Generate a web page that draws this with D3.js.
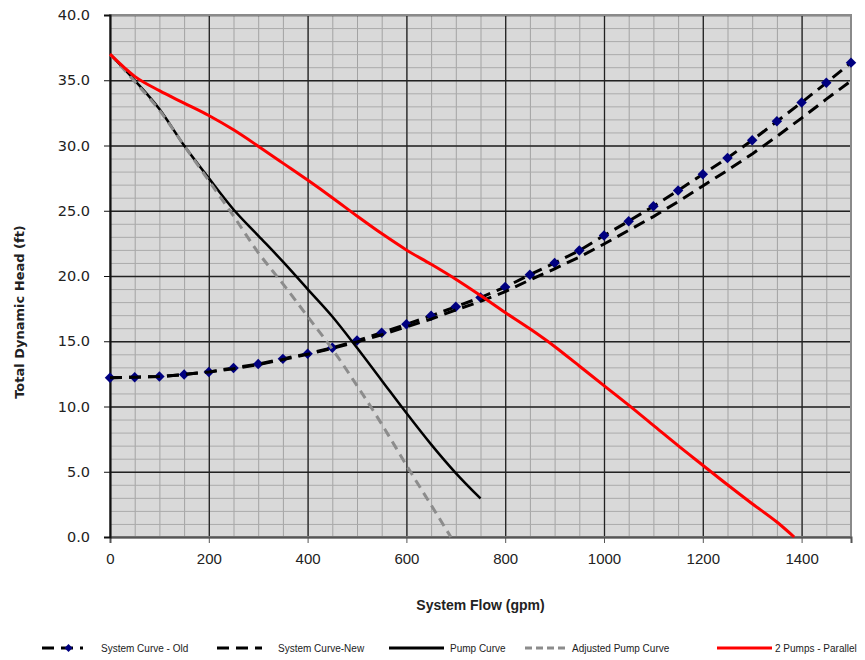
<!DOCTYPE html>
<html>
<head>
<meta charset="utf-8">
<script src="https://cdn.jsdelivr.net/npm/d3@7"></script>
<style>
  body { margin: 0; background: #fff; }
  svg { display: block; }
</style>
</head>
<body>
<svg id="chart" width="865" height="660"></svg>
<script>
// flow values (gpm) for the system curves
const systemFlows = [0, 50, 100, 150, 200, 250, 300, 350, 400, 450, 500, 550, 600, 650, 700, 750,
  800, 850, 900, 950, 1000, 1050, 1100, 1150, 1200, 1250, 1300, 1350, 1400, 1450, 1500];
const systemOld = [12.2, 12.25, 12.3, 12.45, 12.65, 12.95, 13.25, 13.65, 14.05, 14.5, 15.05, 15.65, 16.3, 16.95, 17.65, 18.35,
  19.15, 20.1, 21.0, 21.95, 23.1, 24.2, 25.35, 26.55, 27.8, 29.05, 30.4, 31.85, 33.3, 34.8, 36.35];
const systemNew = [12.2, 12.25, 12.3, 12.45, 12.65, 12.9, 13.2, 13.6, 14.0, 14.45, 14.95, 15.5, 16.1, 16.7, 17.4, 18.05,
  18.8, 19.7, 20.55, 21.45, 22.45, 23.5, 24.55, 25.7, 26.9, 28.1, 29.35, 30.7, 32.1, 33.55, 34.95];

const pumpFlows = [0, 50, 100, 150, 200, 250, 300, 350, 400, 450, 500, 550, 600, 650, 700, 750];
const pumpHead = [37.0, 35.0, 32.8, 30.0, 27.5, 25.1, 23.1, 21.1, 19.0, 16.9, 14.5, 12.0, 9.5, 7.1, 4.9, 2.95];

const adjFlows = [0, 50, 100, 150, 200, 250, 300, 350, 400, 450, 500, 550, 600, 650, 690];
const adjHead = [37.0, 34.9, 32.7, 30.0, 27.3, 24.6, 21.8, 19.4, 16.9, 14.4, 11.6, 8.65, 5.5, 2.45, 0.0];

const parFlows = [0, 50, 100, 150, 200, 250, 300, 350, 400, 450, 500, 550, 600, 650, 700, 750,
  800, 850, 900, 950, 1000, 1050, 1100, 1150, 1200, 1250, 1300, 1350, 1385];
const parHead = [37.0, 35.3, 34.2, 33.25, 32.3, 31.2, 29.95, 28.65, 27.35, 26.0, 24.6, 23.25, 22.0, 20.9, 19.75, 18.5,
  17.2, 15.95, 14.6, 13.1, 11.6, 10.1, 8.55, 7.0, 5.5, 4.0, 2.55, 1.15, 0.0];

const xTicks = [0, 200, 400, 600, 800, 1000, 1200, 1400];
const yTicks = [0, 5, 10, 15, 20, 25, 30, 35, 40];

const legendNames = ["System Curve - Old", "System Curve-New", "Pump Curve", "Adjusted Pump Curve", "2 Pumps - Parallel"];

const svg = d3.select("#chart");
const margin = { top: 15, right: 14, bottom: 123, left: 110 };
const width = 865 - margin.left - margin.right;
const height = 660 - margin.top - margin.bottom;

const x = d3.scaleLinear().domain([0, 1500]).range([margin.left, margin.left + width]);
const y = d3.scaleLinear().domain([0, 40]).range([margin.top + height, margin.top]);

// plot background
svg.append("rect")
  .attr("x", margin.left).attr("y", margin.top)
  .attr("width", width).attr("height", height)
  .attr("fill", "#d9d9d9");

// minor grid
const grid = svg.append("g");
grid.append("g")
  .attr("transform", `translate(0,${margin.top + height})`)
  .call(d3.axisBottom(x).ticks(30).tickSize(-height).tickFormat(""))
  .call(g => g.select(".domain").remove())
  .call(g => g.selectAll("line").attr("stroke", "#a3a3a3").attr("stroke-width", 1));
grid.append("g")
  .attr("transform", `translate(${margin.left},0)`)
  .call(d3.axisLeft(y).ticks(40).tickSize(-width).tickFormat(""))
  .call(g => g.select(".domain").remove())
  .call(g => g.selectAll("line").attr("stroke", "#ababab").attr("stroke-width", 1));

// major grid
grid.append("g")
  .attr("transform", `translate(0,${margin.top + height})`)
  .call(d3.axisBottom(x).tickValues(xTicks).tickSize(-height).tickFormat(""))
  .call(g => g.select(".domain").remove())
  .call(g => g.selectAll("line").attr("stroke", "#222").attr("stroke-width", 1.3));
grid.append("g")
  .attr("transform", `translate(${margin.left},0)`)
  .call(d3.axisLeft(y).tickValues(yTicks).tickSize(-width).tickFormat(""))
  .call(g => g.select(".domain").remove())
  .call(g => g.selectAll("line").attr("stroke", "#222").attr("stroke-width", 1.3));

// plot frame (right/top in grey)
svg.append("rect")
  .attr("x", margin.left).attr("y", margin.top)
  .attr("width", width).attr("height", height)
  .attr("fill", "none").attr("stroke", "#8a8a8a").attr("stroke-width", 2);

// axes
const xAxis = svg.append("g")
  .attr("transform", `translate(0,${margin.top + height})`)
  .call(d3.axisBottom(x).tickValues(xTicks).tickSize(6).tickPadding(10).tickFormat(d3.format("d")));
xAxis.select(".domain").attr("stroke", "#555").attr("stroke-width", 2);
xAxis.selectAll("line").attr("stroke", "#555");
xAxis.selectAll("text")
  .attr("font-family", "'Liberation Sans Narrow', 'Arial Narrow', sans-serif")
  .attr("font-size", 15).attr("fill", "#222");

const yAxis = svg.append("g")
  .attr("transform", `translate(${margin.left},0)`)
  .call(d3.axisLeft(y).tickValues(yTicks).tickSize(6).tickPadding(14).tickFormat(d3.format(".1f")));
yAxis.select(".domain").attr("stroke", "#111").attr("stroke-width", 2);
yAxis.selectAll("line").attr("stroke", "#111");
yAxis.selectAll("text")
  .attr("font-family", "'DejaVu Sans', Verdana, sans-serif")
  .attr("font-size", 14.5).attr("fill", "#222");

// axis titles
svg.append("text")
  .attr("x", x(750)).attr("y", 610)
  .attr("text-anchor", "middle")
  .attr("font-family", "'Liberation Sans', Arial, sans-serif")
  .attr("font-weight", "bold").attr("font-size", 14).attr("fill", "#222")
  .text("System Flow (gpm)");

svg.append("text")
  .attr("transform", `translate(24,${y(20) + 36}) rotate(-90)`)
  .attr("text-anchor", "middle")
  .attr("font-family", "'DejaVu Sans', Verdana, sans-serif")
  .attr("font-weight", "bold").attr("font-size", 13).attr("fill", "#222")
  .text("Total Dynamic Head (ft)");

// series
const line = d3.line().x(d => x(d[0])).y(d => y(d[1]));
const zip = (xs, ys) => xs.map((v, i) => [v, ys[i]]);

const plot = svg.append("g");

plot.append("path")
  .datum(zip(systemFlows, systemOld))
  .attr("d", line)
  .attr("fill", "none").attr("stroke", "#000").attr("stroke-width", 3)
  .attr("stroke-dasharray", "12,7");

plot.selectAll(".oldPt")
  .data(zip(systemFlows, systemOld))
  .join("path")
  .attr("class", "oldPt")
  .attr("d", d3.symbol(d3.symbolDiamond2, 70))
  .attr("transform", d => `translate(${x(d[0])},${y(d[1])})`)
  .attr("fill", "#000080");

plot.append("path")
  .datum(zip(systemFlows, systemNew))
  .attr("d", line)
  .attr("fill", "none").attr("stroke", "#000").attr("stroke-width", 3)
  .attr("stroke-dasharray", "12,7");

plot.append("path")
  .datum(zip(pumpFlows, pumpHead))
  .attr("d", line.curve(d3.curveMonotoneX))
  .attr("fill", "none").attr("stroke", "#000").attr("stroke-width", 2.5);

plot.append("path")
  .datum(zip(adjFlows, adjHead))
  .attr("d", line.curve(d3.curveMonotoneX))
  .attr("fill", "none").attr("stroke", "#8c8c8c").attr("stroke-width", 3)
  .attr("stroke-dasharray", "9,6");

plot.append("path")
  .datum(zip(parFlows, parHead))
  .attr("d", line.curve(d3.curveMonotoneX))
  .attr("fill", "none").attr("stroke", "#ff0000").attr("stroke-width", 3);

// legend
const legendY = 648;
const legendItems = [
  { x0: 42, x1: 83, tx: 101, stroke: "#000", dash: "12,7", w: 3, marker: true },
  { x0: 217, x1: 262, tx: 278, stroke: "#000", dash: "12,7", w: 3 },
  { x0: 389, x1: 444, tx: 450, stroke: "#000", dash: null, w: 3 },
  { x0: 525, x1: 568, tx: 572, stroke: "#8c8c8c", dash: "7,4", w: 3 },
  { x0: 717, x1: 772, tx: 775, stroke: "#ff0000", dash: null, w: 3 }
];
const legend = svg.append("g");
legendItems.forEach((it, i) => {
  legend.append("line")
    .attr("x1", it.x0).attr("x2", it.x1)
    .attr("y1", legendY).attr("y2", legendY)
    .attr("stroke", it.stroke).attr("stroke-width", it.w)
    .attr("stroke-dasharray", it.dash);
  if (it.marker) {
    legend.append("path")
      .attr("d", d3.symbol(d3.symbolDiamond2, 40))
      .attr("transform", `translate(${(it.x0 + it.x1) / 2 + 6},${legendY})`)
      .attr("fill", "#000080");
  }
  legend.append("text")
    .attr("x", it.tx).attr("y", legendY + 3.5)
    .attr("font-family", "'Liberation Sans Narrow', 'Arial Narrow', sans-serif")
    .attr("font-size", 10).attr("fill", "#222")
    .text(legendNames[i]);
});
</script>
</body>
</html>
